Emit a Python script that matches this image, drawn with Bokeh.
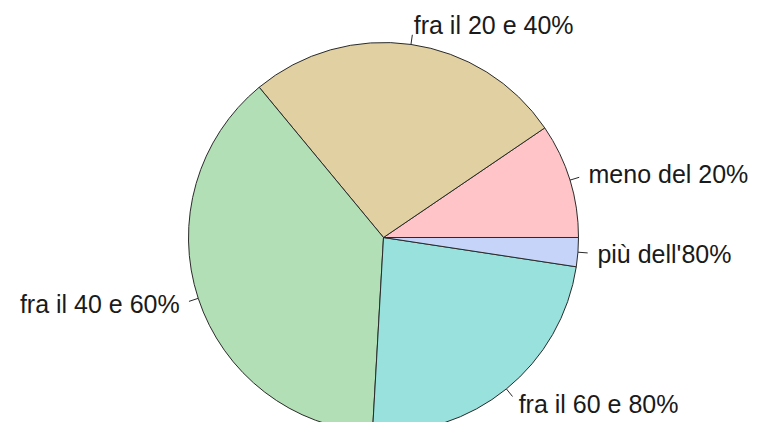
import numpy as np
from bokeh.plotting import figure
from bokeh.models import Range1d, ColumnDataSource
from bokeh.core.properties import value
from bokeh.embed import file_html
from bokeh.resources import INLINE

# Data
labels = ["meno del 20%", "fra il 20 e 40%", "fra il 40 e 60%", "fra il 60 e 80%", "più dell'80%"]
shares = [9.5, 26.5, 38.1, 23.5, 2.4]
colors = ["#FEC4C8", "#E0D0A2", "#B3DFB6", "#98E1DC", "#C5D4F8"]

R = 195.0
W, H = 754, 422
cx_screen, cy_screen = 383, 237

p = figure(width=W, height=H, output_backend="svg", toolbar_location=None,
           x_range=Range1d(-cx_screen, W - cx_screen),
           y_range=Range1d(-(H - cy_screen), cy_screen),
           min_border=0)
p.axis.visible = False
p.grid.visible = False
p.outline_line_color = None
p.background_fill_color = "white"

vals = np.array(shares, dtype=float)
frac = vals / vals.sum()
ends = np.cumsum(frac) * 2 * np.pi
starts = np.concatenate([[0.0], ends[:-1]])
mids = (starts + ends) / 2

src = ColumnDataSource(dict(start=starts, end=ends, color=colors))
p.wedge(x=0, y=0, radius=R, start_angle="start", end_angle="end",
        fill_color="color", line_color="#2a2a2a", line_width=1, source=src)

p.segment(x0=R * np.cos(mids), y0=R * np.sin(mids),
          x1=1.05 * R * np.cos(mids), y1=1.05 * R * np.sin(mids),
          line_color="#2a2a2a", line_width=1)

tx = 1.1 * R * np.cos(mids)
ty = 1.1 * R * np.sin(mids)
align = ["left" if np.cos(m) >= 0 else "right" for m in mids]
tsrc = ColumnDataSource(dict(x=tx, y=ty, t=labels, a=align))
p.text(x="x", y="y", text="t", text_align="a", text_baseline="middle",
       text_font=value("Liberation Sans"), text_font_size="25px",
       text_color="#1a1a1a", source=tsrc)

open("out.html", "w").write(file_html(p, INLINE))
